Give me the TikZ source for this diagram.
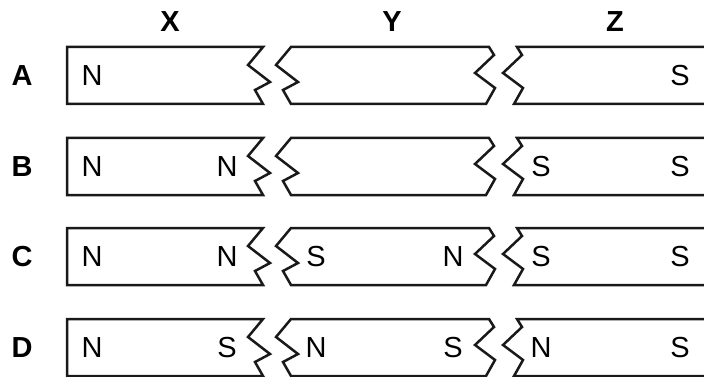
\documentclass[tikz,border=0pt]{standalone}
\usepackage{fontspec}
\setmainfont{Liberation Sans}
\tikzset{
  magbar/.style={line width=2.5pt, draw=black!90, line join=miter},
  pole/.style={font=\fontsize{29}{30}\selectfont, inner sep=0pt},
  rowlabel/.style={font=\fontsize{29}{30}\selectfont\bfseries, inner sep=0pt},
  collabel/.style={font=\fontsize{29}{30}\selectfont\bfseries, inner sep=0pt},
}

\begin{document}
\begin{tikzpicture}[x=1pt, y=-1pt]
\useasboundingbox (0,0) rectangle (704,377);
% column headings
\node[collabel] (hx) at (170,22) {X};
\node[collabel] (hy) at (392,22) {Y};
\node[collabel] (hz) at (615,22) {Z};
% row A
\draw[magbar, shift={(0,47)}] (67,0) -- (263,0) -- (248,18) -- (270,35) -- (255,43) -- (263,57) -- (67,57) -- cycle;
\draw[magbar, shift={(0,47)}] (291,0) -- (489,0) -- (494,8) -- (475,26) -- (495,41) -- (486,57) -- (291,57) -- (283,43) -- (298,35) -- (276,18) -- cycle;
\draw[magbar, shift={(0,47)}] (710,0) -- (517,0) -- (522,8) -- (503,26) -- (523,41) -- (514,57) -- (710,57);
\node[rowlabel] (ra) at (22,76) {A};
\node[pole] (ax1) at (92,76) {N};
\node[pole] (az2) at (680,76) {S};
% row B
\draw[magbar, shift={(0,138)}] (67,0) -- (263,0) -- (248,18) -- (270,35) -- (255,43) -- (263,57) -- (67,57) -- cycle;
\draw[magbar, shift={(0,138)}] (291,0) -- (489,0) -- (494,8) -- (475,26) -- (495,41) -- (486,57) -- (291,57) -- (283,43) -- (298,35) -- (276,18) -- cycle;
\draw[magbar, shift={(0,138)}] (710,0) -- (517,0) -- (522,8) -- (503,26) -- (523,41) -- (514,57) -- (710,57);
\node[rowlabel] (rb) at (22,167) {B};
\node[pole] (bx1) at (92,167) {N};
\node[pole] (bx2) at (227,167) {N};
\node[pole] (bz1) at (541,167) {S};
\node[pole] (bz2) at (680,167) {S};
% row C
\draw[magbar, shift={(0,228)}] (67,0) -- (263,0) -- (248,18) -- (270,35) -- (255,43) -- (263,57) -- (67,57) -- cycle;
\draw[magbar, shift={(0,228)}] (291,0) -- (489,0) -- (494,8) -- (475,26) -- (495,41) -- (486,57) -- (291,57) -- (283,43) -- (298,35) -- (276,18) -- cycle;
\draw[magbar, shift={(0,228)}] (710,0) -- (517,0) -- (522,8) -- (503,26) -- (523,41) -- (514,57) -- (710,57);
\node[rowlabel] (rc) at (22,257) {C};
\node[pole] (cx1) at (92,257) {N};
\node[pole] (cx2) at (227,257) {N};
\node[pole] (cy1) at (316,257) {S};
\node[pole] (cy2) at (453,257) {N};
\node[pole] (cz1) at (541,257) {S};
\node[pole] (cz2) at (680,257) {S};
% row D
\draw[magbar, shift={(0,319)}] (67,0) -- (263,0) -- (248,18) -- (270,35) -- (255,43) -- (263,57) -- (67,57) -- cycle;
\draw[magbar, shift={(0,319)}] (291,0) -- (489,0) -- (494,8) -- (475,26) -- (495,41) -- (486,57) -- (291,57) -- (283,43) -- (298,35) -- (276,18) -- cycle;
\draw[magbar, shift={(0,319)}] (710,0) -- (517,0) -- (522,8) -- (503,26) -- (523,41) -- (514,57) -- (710,57);
\node[rowlabel] (rd) at (22,348) {D};
\node[pole] (dx1) at (92,348) {N};
\node[pole] (dx2) at (227,348) {S};
\node[pole] (dy1) at (316,348) {N};
\node[pole] (dy2) at (453,348) {S};
\node[pole] (dz1) at (541,348) {N};
\node[pole] (dz2) at (680,348) {S};
\end{tikzpicture}
\end{document}
